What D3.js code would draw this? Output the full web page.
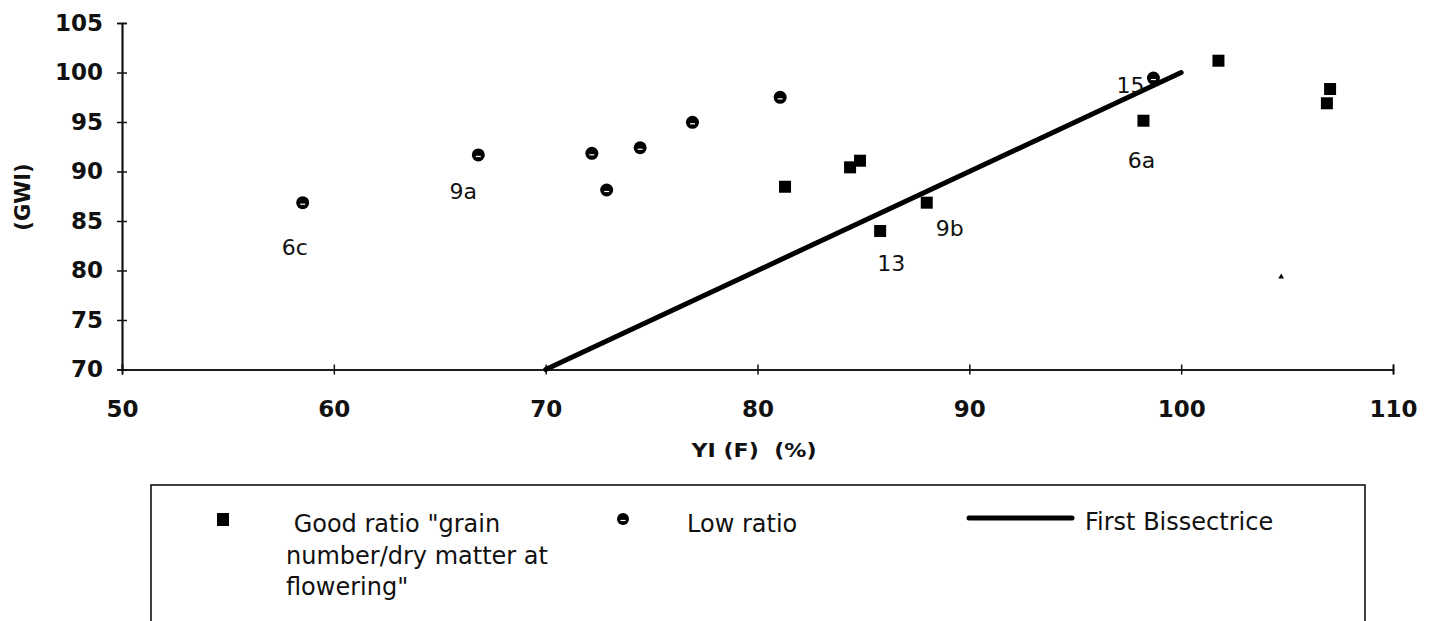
<!DOCTYPE html>
<html>
<head>
<meta charset="utf-8">
<script src="https://cdn.jsdelivr.net/npm/d3@7"></script>
<style>
  html, body { margin: 0; padding: 0; background: #fff; }
  svg { display: block; }
  text { font-family: "DejaVu Sans", "Liberation Sans", sans-serif; fill: #111; }
</style>
</head>
<body>
<svg id="chart" width="1430" height="621"></svg>
<script>
// Axis ticks
const xTicks = [50, 60, 70, 80, 90, 100, 110];
const yTicks = [70, 75, 80, 85, 90, 95, 100, 105];

// Good ratio "grain number / dry matter at flowering"
const goodX = [81.30, 84.37, 84.84, 85.79, 87.99, 98.22, 101.76, 107.03, 106.88];
const goodY = [88.46, 90.42, 91.09, 83.99, 86.85, 95.13, 101.19, 98.33, 96.89];

// Low ratio
const lowX = [58.53, 66.82, 72.18, 72.88, 74.46, 76.93, 81.07, 98.69];
const lowY = [86.85, 91.67, 91.84, 88.13, 92.40, 94.97, 97.49, 99.44];

// Isolated small mark
const strayX = [104.72];
const strayY = [79.37];

// First bissectrice (y = x) end points
const bisX = [70, 100];
const bisY = [70, 100];

// Point labels
const labelNames = ["6c", "9a", "13", "9b", "6a", "15"];
const labelX = [58.53, 66.82, 85.79, 87.99, 98.22, 98.69];
const labelY = [86.85, 91.67, 83.99, 86.85, 95.13, 99.44];

// Legend entries
const legendGood = [" Good ratio \"grain", "number/dry matter at", "flowering\""];
const legendLow = "Low ratio";
const legendLine = "First Bissectrice";
const xTitle = "YI (F)  (%)";
const yTitle = "(GWI)";

// ---------------------------------------------------------------
const svg = d3.select("#chart");
const x = d3.scaleLinear().domain([50, 110]).range([122, 1393]);
const y = d3.scaleLinear().domain([70, 105]).range([369.5, 23]);

const axisColor = "#111";

// Y axis: outward ticks with labels, plus inward ticks so they cross the line
const gy = svg.append("g").attr("transform", `translate(${x(50)},0)`);
gy.call(d3.axisLeft(y).tickValues(yTicks).tickSize(5).tickPadding(14).tickFormat(d3.format("d")));
const gy2 = svg.append("g").attr("transform", `translate(${x(50)},0)`);
gy2.call(d3.axisLeft(y).tickValues(yTicks).tickSize(-5).tickFormat(""));
[gy, gy2].forEach(g => {
  g.select(".domain").attr("stroke", axisColor).attr("stroke-width", 1.7);
  g.selectAll(".tick line").attr("stroke", axisColor).attr("stroke-width", 1.5);
});
gy.selectAll(".tick text")
  .attr("font-family", "DejaVu Sans")
  .attr("font-size", 23).attr("font-weight", "bold").attr("fill", "#111");

// X axis
const gx = svg.append("g").attr("transform", `translate(0,${y(70)})`);
gx.call(d3.axisBottom(x).tickValues(xTicks).tickSize(5).tickPadding(26).tickFormat(d3.format("d")));
const gx2 = svg.append("g").attr("transform", `translate(0,${y(70)})`);
gx2.call(d3.axisBottom(x).tickValues(xTicks).tickSize(-5).tickFormat(""));
[gx, gx2].forEach(g => {
  g.select(".domain").attr("stroke", axisColor).attr("stroke-width", 1.7);
  g.selectAll(".tick line").attr("stroke", axisColor).attr("stroke-width", 1.5);
});
gx.selectAll(".tick text")
  .attr("font-family", "DejaVu Sans")
  .attr("font-size", 23).attr("font-weight", "bold").attr("fill", "#111");

// Axis titles
svg.append("text")
  .attr("x", 754).attr("y", 457)
  .attr("text-anchor", "middle")
  .attr("font-size", 19).attr("font-weight", "bold")
  .attr("textLength", 125).attr("lengthAdjust", "spacingAndGlyphs")
  .style("white-space", "pre")
  .text(xTitle);

svg.append("text")
  .attr("transform", "translate(30,197) rotate(-90)")
  .attr("text-anchor", "middle")
  .attr("font-size", 21).attr("font-weight", "bold")
  .text(yTitle);

// First bissectrice
svg.append("path")
  .datum(d3.zip(bisX, bisY))
  .attr("d", d3.line().x(d => x(d[0])).y(d => y(d[1])))
  .attr("stroke", "#000").attr("stroke-width", 5)
  .attr("stroke-linecap", "round").attr("fill", "none");

// Good ratio squares
const sq = 12;
svg.append("g").selectAll("rect")
  .data(d3.zip(goodX, goodY))
  .join("rect")
  .attr("x", d => x(d[0]) - sq / 2)
  .attr("y", d => y(d[1]) - sq / 2)
  .attr("width", sq).attr("height", sq)
  .attr("fill", "#000");

// Low ratio circles (with the small light notch of the marker)
const lowG = svg.append("g").selectAll("g")
  .data(d3.zip(lowX, lowY))
  .join("g")
  .attr("transform", d => `translate(${x(d[0])},${y(d[1])})`);
lowG.append("circle").attr("r", 6.5).attr("fill", "#000");
lowG.append("line")
  .attr("x1", -2.5).attr("x2", 2.5).attr("y1", 1.5).attr("y2", 1.5)
  .attr("stroke", "#fff").attr("stroke-width", 1.2);

// Isolated small mark
svg.append("g").selectAll("path")
  .data(d3.zip(strayX, strayY))
  .join("path")
  .attr("transform", d => `translate(${x(d[0])},${y(d[1])})`)
  .attr("d", d3.symbol(d3.symbolTriangle, 14))
  .attr("fill", "#000");

// Point labels, offset from their points
const labelOffset = {
  "6c": [-8, 44], "9a": [-15, 36], "13": [11, 32],
  "9b": [23, 25], "6a": [-2, 39], "15": [-23, 7]
};
svg.append("g").selectAll("text")
  .data(d3.zip(labelNames, labelX, labelY))
  .join("text")
  .attr("x", d => x(d[1]) + labelOffset[d[0]][0])
  .attr("y", d => y(d[2]) + labelOffset[d[0]][1])
  .attr("dy", "0.36em")
  .attr("text-anchor", "middle")
  .attr("font-size", 22)
  .text(d => d[0]);

// Legend box
const lg = svg.append("g");
lg.append("rect")
  .attr("x", 151).attr("y", 485).attr("width", 1214).attr("height", 200)
  .attr("fill", "none").attr("stroke", "#111").attr("stroke-width", 1.6);

lg.append("rect")
  .attr("x", 217).attr("y", 513).attr("width", 12).attr("height", 13)
  .attr("fill", "#000");
lg.append("text")
  .attr("x", 286).attr("y", 532)
  .attr("font-size", 24)
  .style("white-space", "pre")
  .selectAll("tspan")
  .data(legendGood)
  .join("tspan")
  .attr("x", 286)
  .attr("dy", (d, i) => i === 0 ? 0 : 31.5)
  .text(d => d);

const lc = lg.append("g").attr("transform", "translate(623,519)");
lc.append("circle").attr("r", 6).attr("fill", "#000");
lc.append("line").attr("x1", -2.5).attr("x2", 2.5).attr("y1", 1.5).attr("y2", 1.5)
  .attr("stroke", "#fff").attr("stroke-width", 1.2);
lg.append("text").attr("x", 687).attr("y", 532).attr("font-size", 24).text(legendLow);

lg.append("line")
  .attr("x1", 969).attr("x2", 1072).attr("y1", 518).attr("y2", 518)
  .attr("stroke", "#000").attr("stroke-width", 5).attr("stroke-linecap", "round");
lg.append("text").attr("x", 1085).attr("y", 530).attr("font-size", 24).text(legendLine);
</script>
</body>
</html>
